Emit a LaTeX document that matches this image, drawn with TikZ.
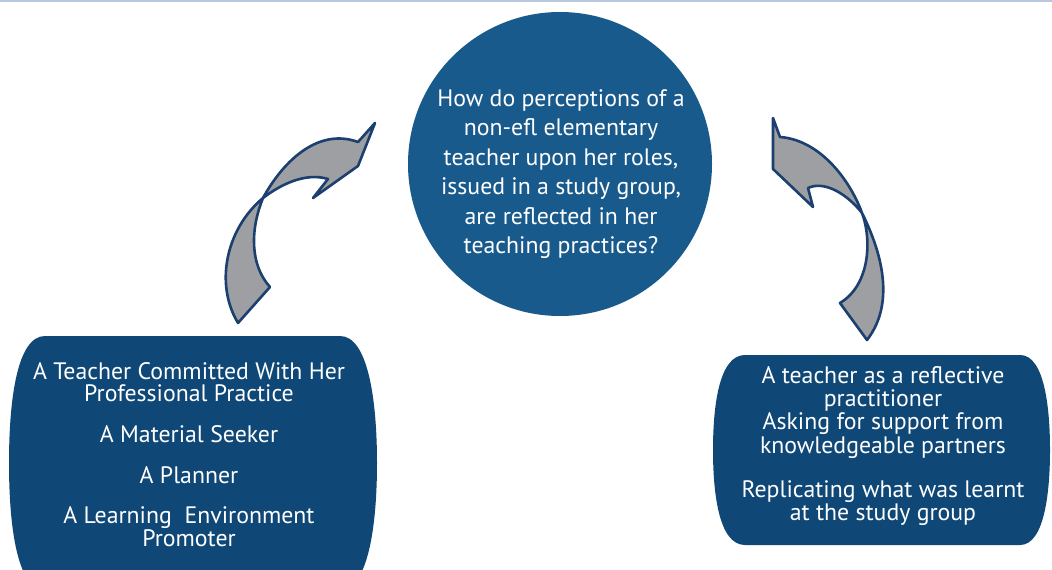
\documentclass[tikz,border=0pt]{standalone}
\usepackage{fontspec}
\setmainfont{PT Sans}
\definecolor{circblue}{HTML}{195A8C}
\definecolor{boxblue}{HTML}{0F4876}
\definecolor{arrgray}{HTML}{9D9FA2}
\definecolor{arredge}{HTML}{1B3F6E}
\definecolor{topline}{HTML}{B8C8DE}
\tikzset{
  blockarrow/.style={fill=arrgray, draw=arredge, line width=2.6pt, line join=round},
  rolebox/.style={fill=boxblue, draw=none},
  roletext/.style={text=white, align=center, inner sep=0pt},
}
\begin{document}
\begin{tikzpicture}[x=1pt,y=-1pt]
\useasboundingbox (0,0) rectangle (1052,570);
\fill[white] (0,0) rectangle (1052,570);
\draw[topline, line width=2pt] (0,1) -- (1052,1);

% central question
\node[circle, fill=circblue, minimum size=304pt, inner sep=0pt] (q) at (560,164) {};
\node[roletext, font=\fontsize{23.8}{29.4}\selectfont] (qt) at (561,174)
  {How do perceptions of a\\ non-efl elementary\\ teacher upon her roles,\\ issued in a study group,\\ are reflected in her\\ teaching practices?};

% left box
\path[rolebox] (45,336) -- (340,336) .. controls (368,336) and (377,400) .. (377,463)
  .. controls (377,526) and (368,590) .. (340,590) -- (45,590)
  .. controls (17,590) and (9,526) .. (9,463) .. controls (9,400) and (17,336) .. (45,336) -- cycle;
\node[roletext, font=\fontsize{23.8}{21.8}\selectfont] (lt) at (189,455)
  {A Teacher Committed With Her\\ Professional Practice\\[19pt] A Material Seeker\\[19pt] A Planner\\[19pt] A Learning\ \ Environment\\ Promoter};

% right box
\path[rolebox] (745,355) -- (1020,355) .. controls (1045,355) and (1050,410) .. (1050,450)
  .. controls (1050,490) and (1045,545) .. (1020,545) -- (745,545)
  .. controls (718,545) and (713,490) .. (713,450) .. controls (713,410) and (718,355) .. (745,355) -- cycle;
\node[roletext, font=\fontsize{23.8}{23.2}\selectfont] (rt) at (883,446)
  {A teacher as a reflective\\ practitioner\\ Asking for support from\\ knowledgeable partners\\[21pt] Replicating what was learnt\\ at the study group};

% left curved arrow
\path[blockarrow] (238,323) .. controls (215,285) and (225,230) .. (263,198)
  .. controls (285,158) and (320,128) .. (358,142)
  -- (375,123) -- (358,166) -- (313,198) -- (328,179)
  .. controls (305,172) and (280,185) .. (263,198)
  .. controls (250,230) and (250,265) .. (270,287) -- cycle;

% right curved arrow
\path[blockarrow] (773,118) -- (780,137)
  .. controls (820,140) and (850,180) .. (862,213)
  .. controls (878,245) and (898,300) .. (867,340)
  -- (840,303)
  .. controls (870,285) and (872,240) .. (862,213)
  .. controls (848,195) and (825,180) .. (808,188)
  -- (813,207) -- (773,169) -- cycle;
\end{tikzpicture}
\end{document}
